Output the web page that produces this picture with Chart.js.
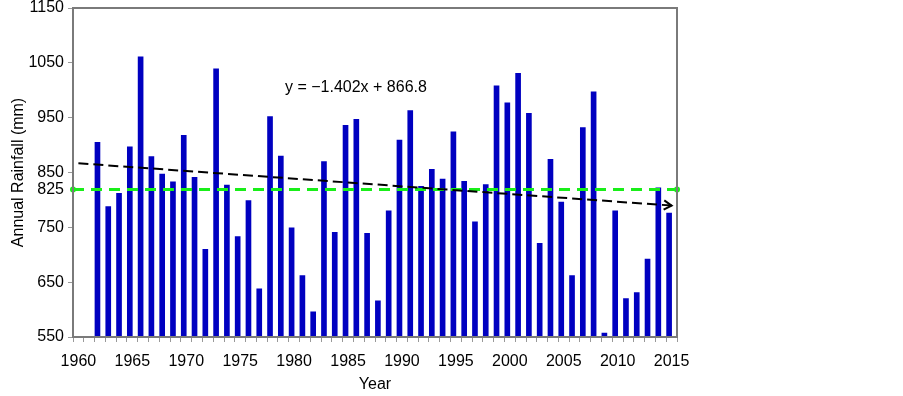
<!DOCTYPE html>
<html>
<head>
<meta charset="utf-8">
<script src="https://cdn.jsdelivr.net/npm/chart.js@4.4.0/dist/chart.umd.min.js"></script>
<style>
    html, body { margin: 0; padding: 0; background: #fff; }
    #wrap { width: 903px; height: 396px; }
</style>
</head>
<body>
<div id="wrap"><canvas id="rainChart"></canvas></div>
<script>
// Category years on the x axis (bars sit between the tick marks)
const years = [
    1960, 1961, 1962, 1963, 1964, 1965, 1966, 1967, 1968, 1969,
    1970, 1971, 1972, 1973, 1974, 1975, 1976, 1977, 1978, 1979,
    1980, 1981, 1982, 1983, 1984, 1985, 1986, 1987, 1988, 1989,
    1990, 1991, 1992, 1993, 1994, 1995, 1996, 1997, 1998, 1999,
    2000, 2001, 2002, 2003, 2004, 2005, 2006, 2007, 2008, 2009,
    2010, 2011, 2012, 2013, 2014, 2015
];

// Annual rainfall (mm); no data for 1960-61
const rainfall = [
    null, null, 905, 788, 812, 897, 1061, 879, 847, 833,
    918, 841, 710, 1039, 827, 733, 799, 638, 952, 880,
    749, 662, 596, 870, 741, 936, 947, 739, 616, 780,
    909, 963, 825, 856, 838, 924, 834, 760, 828, 1008,
    977, 1031, 958, 721, 874, 796, 662, 932, 997, 557,
    780, 620, 631, 692, 822, 776
];

const meanRainfall = 819; // where the green dashed line is drawn
const meanLabel = "825";  // label shown next to it on the y axis
const yTicks = [550, 650, 750, meanRainfall, 850, 950, 1050, 1150];
const trendEnds = [866.8, 789.7]; // trend line at 1960 and 2015
const trendLabel = "y = \u22121.402x + 866.8";

const trendData = years.map((y, i) => {
    if (i === 0) return trendEnds[0];
    if (i === years.length - 1) return trendEnds[1];
    return null;
});

const fontFamily = "'Liberation Sans', Arial, sans-serif";

// draws the frame, the arrow head of the trend line and the equation
const extrasPlugin = {
    id: "extras",
    afterDatasetsDraw(chart) {
        const ctx = chart.ctx;
        const area = chart.chartArea;

        // arrow head at the end of the trend line
        const meta = chart.getDatasetMeta(1);
        const first = meta.data[0];
        const last = meta.data[meta.data.length - 1];
        const ang = Math.atan2(last.y - first.y, last.x - first.x);
        const len = 9;
        ctx.save();
        ctx.strokeStyle = "#000";
        ctx.lineWidth = 2;
        ctx.beginPath();
        ctx.moveTo(last.x - len * Math.cos(ang - 0.55), last.y - len * Math.sin(ang - 0.55));
        ctx.lineTo(last.x, last.y);
        ctx.lineTo(last.x - len * Math.cos(ang + 0.55), last.y - len * Math.sin(ang + 0.55));
        ctx.stroke();

        // frame round the plot
        ctx.strokeStyle = "#7a7a7a";
        ctx.lineWidth = 2;
        ctx.strokeRect(area.left, area.top, area.right - area.left, area.bottom - area.top);

        // equation text
        ctx.fillStyle = "#000";
        ctx.font = "16px " + fontFamily;
        ctx.textBaseline = "middle";
        ctx.textAlign = "left";
        ctx.fillText(trendLabel, area.left + 212, 88);
        ctx.restore();
    }
};

const ctx = document.getElementById("rainChart").getContext("2d");
const rainChart = new Chart(ctx, {
    type: "bar",
    data: {
        labels: years,
        datasets: [
            {
                label: "Annual Rainfall",
                data: rainfall,
                backgroundColor: "#0000c0",
                borderWidth: 0,
                barThickness: 5,
                xAxisID: "x",
                order: 3,
            },
            {
                type: "line",
                label: "Trend",
                data: trendData,
                spanGaps: true,
                borderColor: "#000",
                borderWidth: 2,
                borderDash: [10, 5],
                pointRadius: 0,
                xAxisID: "x",
                order: 1,
            },
            {
                type: "line",
                label: "Mean",
                data: [{ x: 0, y: meanRainfall }, { x: 1, y: meanRainfall }],
                borderColor: "#19ee19",
                borderWidth: 3,
                borderDash: [11, 7],
                pointRadius: 3,
                pointBackgroundColor: "#19ee19",
                pointBorderWidth: 0,
                xAxisID: "xm",
                clip: false,
                order: 2,
            },
        ],
    },
    options: {
        responsive: true,
        maintainAspectRatio: false,
        animation: false,
        layout: {
            padding: { top: 8, right: 226, bottom: 0, left: 0 },
        },
        plugins: {
            legend: { display: false },
            tooltip: { enabled: false },
        },
        scales: {
            x: {
                type: "category",
                offset: true,
                grid: {
                    offset: true,
                    drawOnChartArea: false,
                    drawTicks: true,
                    tickLength: 5,
                    color: "#999",
                },
                border: { color: "#999", width: 2 },
                ticks: {
                    autoSkip: false,
                    maxRotation: 0,
                    minRotation: 0,
                    padding: 10,
                    color: "#000",
                    font: { size: 16, family: fontFamily },
                    callback: (val, i) => (years[i] % 5 === 0 ? String(years[i]) : ""),
                },
                title: {
                    display: true,
                    text: "Year",
                    color: "#000",
                    font: { size: 16, family: fontFamily },
                    padding: { top: 0, bottom: 2 },
                },
                afterFit: (scale) => { scale.height = 59; },
            },
            xm: {
                type: "linear",
                display: false,
                offset: false,
                min: 0,
                max: 1,
            },
            y: {
                type: "linear",
                min: 550,
                max: 1150,
                afterBuildTicks: (axis) => {
                    axis.ticks = yTicks.map((v) => ({ value: v }));
                },
                grid: {
                    drawOnChartArea: false,
                    tickLength: 5,
                    color: (c) => (c.tick && c.tick.value === meanRainfall ? "rgba(0,0,0,0)" : "#999"),
                },
                border: { color: "#999", width: 2 },
                ticks: {
                    padding: 4,
                    color: "#000",
                    font: { size: 16, family: fontFamily },
                    callback: (v) => (v === meanRainfall ? meanLabel : String(v)),
                },
                title: {
                    display: true,
                    text: "Annual Rainfall (mm)",
                    color: "#000",
                    font: { size: 16, family: fontFamily },
                    padding: { top: 9, bottom: 0 },
                },
                afterFit: (scale) => {
                    scale.width = 73;
                    scale.paddingTop = 0;
                    scale.paddingBottom = 0;
                },
            },
        },
    },
    plugins: [extrasPlugin],
});
</script>
</body>
</html>
